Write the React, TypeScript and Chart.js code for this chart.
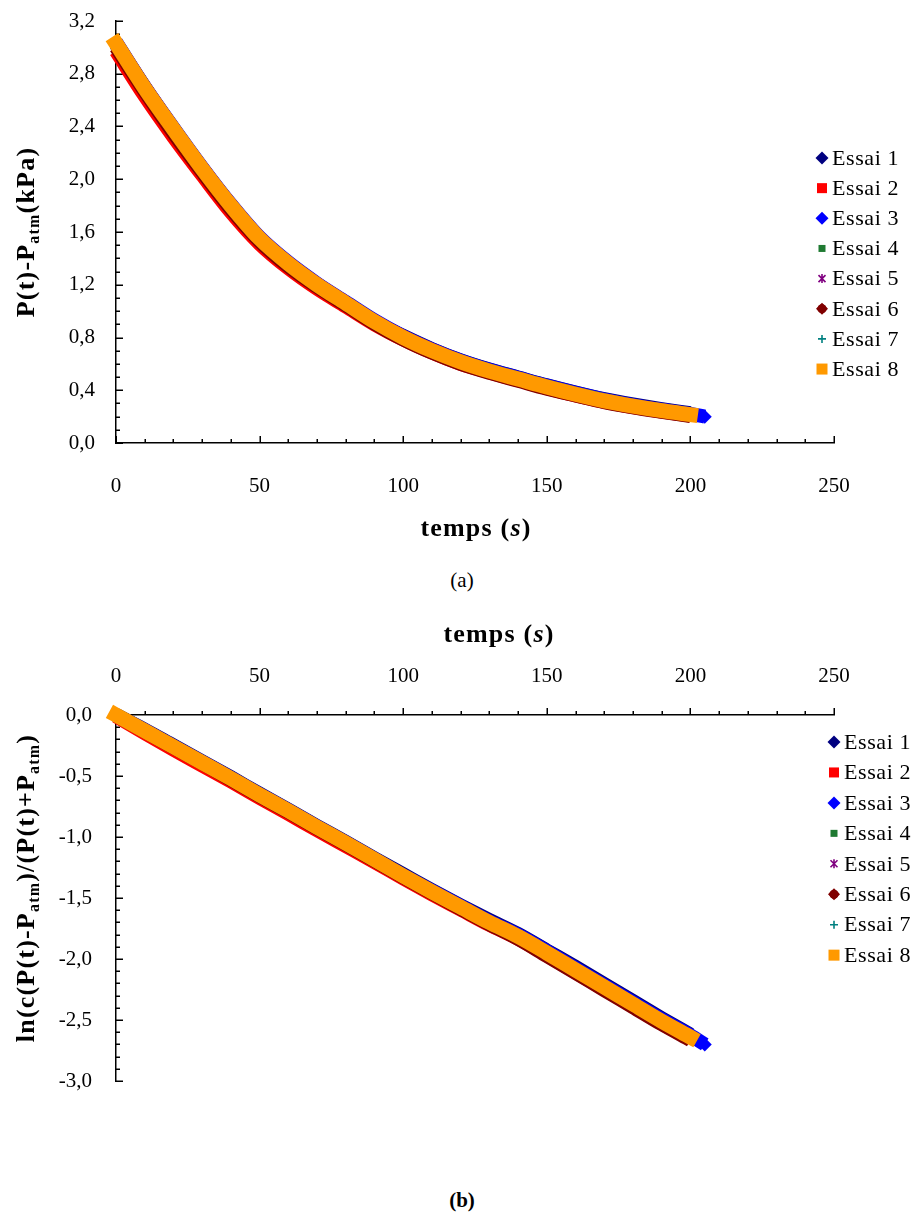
import React, { useEffect, useRef } from 'react';
import { Chart, registerables } from 'chart.js';

Chart.register(...registerables);

// ---------- DATA ----------
const temps = [0, 10, 20, 30, 40, 50, 60, 70, 80, 90, 100, 110, 120, 130, 140, 150, 160, 170, 180, 190, 200, 205];
const essaiNames = ['Essai 1', 'Essai 2', 'Essai 3', 'Essai 4', 'Essai 5', 'Essai 6', 'Essai 7', 'Essai 8'];

// (a) P(t) - Patm (kPa)
const pEssai1 = [3.02, 2.685, 2.37, 2.07, 1.79, 1.54, 1.35, 1.19, 1.055, 0.92, 0.812, 0.712, 0.627, 0.557, 0.497, 0.437, 0.382, 0.332, 0.292, 0.257, 0.226, null];
const pEssai2 = [2.97, 2.63, 2.32, 2.03, 1.75, 1.51, 1.325, 1.17, 1.035, 0.9, 0.785, 0.685, 0.6, 0.535, 0.475, 0.415, 0.36, 0.312, 0.272, 0.238, 0.208, null];
const pEssai3 = [3.04, 2.7, 2.39, 2.09, 1.81, 1.56, 1.37, 1.21, 1.07, 0.93, 0.81, 0.71, 0.625, 0.555, 0.495, 0.435, 0.38, 0.33, 0.288, 0.252, 0.22, 0.2];
const pEssai4 = [3.03, 2.695, 2.38, 2.08, 1.8, 1.55, 1.36, 1.2, 1.06, 0.92, 0.8, 0.7, 0.615, 0.545, 0.485, 0.425, 0.37, 0.32, 0.28, 0.245, 0.213, null];
const pEssai5 = [3.035, 2.7, 2.385, 2.085, 1.805, 1.555, 1.365, 1.205, 1.065, 0.925, 0.805, 0.705, 0.62, 0.55, 0.49, 0.43, 0.375, 0.325, 0.283, 0.248, 0.217, null];
const pEssai6 = [3.0, 2.665, 2.35, 2.055, 1.775, 1.53, 1.34, 1.185, 1.045, 0.905, 0.785, 0.685, 0.6, 0.532, 0.472, 0.412, 0.36, 0.31, 0.27, 0.236, 0.204, null];
const pEssai7 = [3.03, 2.695, 2.38, 2.08, 1.8, 1.55, 1.36, 1.2, 1.06, 0.92, 0.8, 0.7, 0.617, 0.548, 0.488, 0.428, 0.373, 0.323, 0.282, 0.247, 0.216, null];
const pEssai8 = [3.03, 2.69, 2.38, 2.08, 1.8, 1.55, 1.36, 1.2, 1.06, 0.92, 0.8, 0.7, 0.615, 0.545, 0.485, 0.425, 0.37, 0.32, 0.28, 0.245, 0.215, null];

// (b) ln(c(P(t)-Patm)/(P(t)+Patm))
const lnEssai1 = [0, -0.12, -0.25, -0.38, -0.51, -0.645, -0.775, -0.91, -1.04, -1.175, -1.305, -1.435, -1.56, -1.68, -1.795, -1.93, -2.065, -2.205, -2.345, -2.485, -2.62, null];
const lnEssai2 = [-0.01, -0.15, -0.285, -0.415, -0.545, -0.68, -0.81, -0.945, -1.075, -1.205, -1.34, -1.47, -1.595, -1.72, -1.835, -1.97, -2.11, -2.25, -2.39, -2.53, -2.655, null];
const lnEssai3 = [0, -0.125, -0.255, -0.385, -0.515, -0.65, -0.78, -0.915, -1.045, -1.18, -1.315, -1.44, -1.565, -1.69, -1.8, -1.935, -2.075, -2.215, -2.355, -2.495, -2.625, -2.7];
const lnEssai4 = [0, -0.13, -0.26, -0.39, -0.52, -0.655, -0.785, -0.92, -1.05, -1.185, -1.32, -1.45, -1.575, -1.7, -1.815, -1.95, -2.09, -2.23, -2.37, -2.51, -2.64, null];
const lnEssai5 = [0, -0.128, -0.258, -0.388, -0.518, -0.652, -0.783, -0.918, -1.048, -1.183, -1.318, -1.448, -1.573, -1.698, -1.813, -1.948, -2.088, -2.228, -2.368, -2.508, -2.638, null];
const lnEssai6 = [0, -0.135, -0.265, -0.395, -0.53, -0.665, -0.795, -0.93, -1.06, -1.195, -1.33, -1.46, -1.59, -1.715, -1.835, -1.975, -2.115, -2.255, -2.395, -2.535, -2.665, null];
const lnEssai7 = [0, -0.13, -0.26, -0.39, -0.52, -0.655, -0.785, -0.92, -1.05, -1.185, -1.32, -1.45, -1.575, -1.7, -1.815, -1.95, -2.09, -2.23, -2.37, -2.51, -2.64, null];
const lnEssai8 = [0, -0.13, -0.26, -0.39, -0.52, -0.655, -0.785, -0.92, -1.05, -1.185, -1.32, -1.45, -1.575, -1.7, -1.815, -1.95, -2.09, -2.23, -2.37, -2.51, -2.64, null];

const seriesA = [pEssai1, pEssai2, pEssai3, pEssai4, pEssai5, pEssai6, pEssai7, pEssai8];
const seriesB = [lnEssai1, lnEssai2, lnEssai3, lnEssai4, lnEssai5, lnEssai6, lnEssai7, lnEssai8];

// ---------- STYLE ----------
const FONT = "'Liberation Serif', 'Times New Roman', serif";
const essaiColors = ['#000080', '#FF0000', '#0000FF', '#1F7A32', '#800080', '#800000', '#008080', '#FF9900'];
const essaiMarkers = ['diamond', 'square', 'diamond', 'smallSquare', 'star', 'roundDiamond', 'plus', 'bigSquare'];

type Seg = { t: string; sub?: boolean; italic?: boolean };

function drawSegs(ctx: CanvasRenderingContext2D, segs: Seg[], cx: number, cy: number, size: number, rotate: boolean, spacing: number) {
  ctx.save();
  ctx.translate(cx, cy);
  if (rotate) ctx.rotate(-Math.PI / 2);
  ctx.fillStyle = '#000';
  ctx.textBaseline = 'alphabetic';
  ctx.textAlign = 'left';
  (ctx as any).letterSpacing = spacing + 'px';
  const fontFor = (s: Seg) => `${s.italic ? 'italic ' : ''}bold ${s.sub ? Math.round(size * 0.62) : size}px ${FONT}`;
  let total = 0;
  const widths = segs.map((s) => {
    ctx.font = fontFor(s);
    const w = ctx.measureText(s.t).width;
    total += w;
    return w;
  });
  let x = -total / 2;
  const base = size * 0.33;
  segs.forEach((s, i) => {
    ctx.font = fontFor(s);
    ctx.fillText(s.t, x, base + (s.sub ? size * 0.2 : 0));
    x += widths[i];
  });
  ctx.restore();
}

function drawMarker(ctx: CanvasRenderingContext2D, kind: string, color: string, x: number, y: number) {
  ctx.save();
  ctx.fillStyle = color;
  ctx.strokeStyle = color;
  ctx.lineWidth = 1.6;
  ctx.lineJoin = 'round';
  const sq = (s: number) => ctx.fillRect(x - s / 2, y - s / 2, s, s);
  const dia = (r: number) => {
    ctx.beginPath();
    ctx.moveTo(x, y - r);
    ctx.lineTo(x + r, y);
    ctx.lineTo(x, y + r);
    ctx.lineTo(x - r, y);
    ctx.closePath();
    ctx.fill();
  };
  switch (kind) {
    case 'diamond':
      dia(6.5);
      break;
    case 'roundDiamond':
      dia(6);
      ctx.beginPath();
      ctx.arc(x, y, 4.6, 0, Math.PI * 2);
      ctx.fill();
      break;
    case 'square':
      sq(10);
      break;
    case 'smallSquare':
      sq(7);
      break;
    case 'bigSquare':
      sq(11);
      break;
    case 'star':
      ctx.beginPath();
      ctx.moveTo(x - 3.5, y - 3.5); ctx.lineTo(x + 3.5, y + 3.5);
      ctx.moveTo(x + 3.5, y - 3.5); ctx.lineTo(x - 3.5, y + 3.5);
      ctx.moveTo(x, y - 4.5); ctx.lineTo(x, y + 4.5);
      ctx.stroke();
      break;
    case 'plus':
      ctx.beginPath();
      ctx.moveTo(x - 4, y); ctx.lineTo(x + 4, y);
      ctx.moveTo(x, y - 4); ctx.lineTo(x, y + 4);
      ctx.stroke();
      break;
  }
  ctx.restore();
}

interface Cfg {
  xMinor: number; xMajor: number; yMinor: number; yMajor: number; xTop: boolean;
  xTitle: { x: number; y: number }; yTitle: { x: number; y: number; segs: Seg[] };
  legend: { x: number; y: number; dy: number };
}

function makePlugin(cfg: Cfg) {
  return {
    id: 'excelDeco',
    beforeDatasetsDraw(chart: any) {
      const { ctx, chartArea, scales } = chart;
      const x = scales.x, y = scales.y;
      ctx.save();
      ctx.strokeStyle = '#000';
      ctx.lineWidth = 1.5;
      const axisY = cfg.xTop ? chartArea.top : chartArea.bottom;
      const nx = Math.round((x.max - x.min) / cfg.xMinor);
      for (let k = 0; k <= nx; k++) {
        const v = x.min + k * cfg.xMinor;
        const px = Math.round(x.getPixelForValue(v)) + 0.25;
        const r = v / cfg.xMajor;
        const major = Math.abs(r - Math.round(r)) < 1e-6;
        const len = major ? 7 : 4;
        ctx.beginPath();
        ctx.moveTo(px, axisY);
        ctx.lineTo(px, axisY - len);
        ctx.stroke();
      }
      const axisX = chartArea.left;
      const ny = Math.round((y.max - y.min) / cfg.yMinor);
      for (let k = 0; k <= ny; k++) {
        const v = y.min + k * cfg.yMinor;
        const py = Math.round(y.getPixelForValue(v)) + 0.25;
        const r = v / cfg.yMajor;
        const major = Math.abs(r - Math.round(r)) < 1e-6;
        const len = major ? 7 : 4;
        ctx.beginPath();
        ctx.moveTo(axisX, py);
        ctx.lineTo(axisX + len, py);
        ctx.stroke();
      }
      ctx.restore();
    },
    afterDraw(chart: any) {
      const { ctx } = chart;
      drawSegs(ctx, [{ t: 'temps (' }, { t: 's', italic: true }, { t: ')' }], cfg.xTitle.x, cfg.xTitle.y, 26, false, 1.2);
      drawSegs(ctx, cfg.yTitle.segs, cfg.yTitle.x, cfg.yTitle.y, 26, true, 1.2);
      ctx.save();
      ctx.font = `22px ${FONT}`;
      (ctx as any).letterSpacing = '0.6px';
      ctx.textBaseline = 'middle';
      ctx.textAlign = 'left';
      essaiNames.forEach((name, i) => {
        const yy = cfg.legend.y + i * cfg.legend.dy;
        drawMarker(ctx, essaiMarkers[i], essaiColors[i], cfg.legend.x, yy);
        ctx.fillStyle = '#000';
        ctx.fillText(name, cfg.legend.x + 10, yy + 1);
      });
      ctx.restore();
    },
  };
}

function buildDatasets(series: (number | null)[][]) {
  return series.map((vals, i) => {
    const data = temps
      .map((t, j) => (vals[j] == null ? null : { x: t, y: vals[j] as number }))
      .filter((p) => p !== null) as { x: number; y: number }[];
    const last = data.length - 1;
    const isTop = i === 7;
    return {
      label: essaiNames[i],
      data,
      borderColor: essaiColors[i],
      backgroundColor: essaiColors[i],
      pointBackgroundColor: essaiColors[i],
      borderWidth: isTop ? 15 : 14,
      pointStyle: 'rectRot',
      pointBorderWidth: 0,
      pointRadius: (c: any) => (i === 2 && c.dataIndex === last ? 7 : 0),
      showLine: true,
      fill: false,
      cubicInterpolationMode: 'monotone',
      borderCapStyle: isTop ? 'square' : 'butt',
      borderJoinStyle: 'round',
      clip: false,
      order: 8 - i,
    };
  });
}

const tickFont = { family: FONT, size: 21 };
const fmt = (v: any) => Number(v).toFixed(1).replace('.', ',');

function ChartA() {
  const ref = useRef<HTMLCanvasElement>(null);
  useEffect(() => {
    const chart = new Chart(ref.current as HTMLCanvasElement, {
      type: 'line',
      data: { datasets: buildDatasets(seriesA) as any },
      options: {
        animation: false,
        responsive: false,
        events: [],
        layout: { padding: { left: 0, right: 90, top: 21, bottom: 0 } },
        plugins: { legend: { display: false }, tooltip: { enabled: false } },
        scales: {
          x: {
            type: 'linear', position: 'bottom', min: 0, max: 250,
            grid: { display: true, drawOnChartArea: false, drawTicks: false },
            border: { display: true, color: '#000', width: 1.5 },
            ticks: { stepSize: 50, font: tickFont, color: '#000', padding: 31, maxRotation: 0, autoSkip: false },
            afterFit: (s: any) => { s.height = 102; },
          },
          y: {
            type: 'linear', min: 0, max: 3.2,
            grid: { display: true, drawOnChartArea: false, drawTicks: true, tickLength: 21, tickColor: 'rgba(0,0,0,0)' },
            border: { display: true, color: '#000', width: 1.5 },
            ticks: { stepSize: 0.4, font: tickFont, color: '#000', padding: 0, autoSkip: false, callback: fmt },
            afterFit: (s: any) => { s.width = 116; },
          },
        },
      } as any,
      plugins: [makePlugin({
        xMinor: 10, xMajor: 50, yMinor: 0.1, yMajor: 0.4, xTop: false,
        xTitle: { x: 476, y: 527 },
        yTitle: { x: 25, y: 232, segs: [{ t: 'P(t)-P' }, { t: 'atm', sub: true }, { t: '(kPa)' }] },
        legend: { x: 822, y: 158, dy: 30.15 },
      }) as any],
    });
    return () => chart.destroy();
  }, []);
  return <canvas ref={ref} width={924} height={545} style={{ position: 'absolute', left: 0, top: 0, display: 'block' }} />;
}

function ChartB() {
  const ref = useRef<HTMLCanvasElement>(null);
  useEffect(() => {
    const chart = new Chart(ref.current as HTMLCanvasElement, {
      type: 'line',
      data: { datasets: buildDatasets(seriesB) as any },
      options: {
        animation: false,
        responsive: false,
        events: [],
        layout: { padding: { left: 0, right: 90, top: 0, bottom: 24 } },
        plugins: { legend: { display: false }, tooltip: { enabled: false } },
        scales: {
          x: {
            type: 'linear', position: 'top', min: 0, max: 250,
            grid: { display: true, drawOnChartArea: false, drawTicks: false },
            border: { display: true, color: '#000', width: 1.5 },
            ticks: { stepSize: 50, font: tickFont, color: '#000', padding: 26, maxRotation: 0, autoSkip: false },
            afterFit: (s: any) => { s.height = 120; },
          },
          y: {
            type: 'linear', min: -3, max: 0,
            grid: { display: true, drawOnChartArea: false, drawTicks: true, tickLength: 24, tickColor: 'rgba(0,0,0,0)' },
            border: { display: true, color: '#000', width: 1.5 },
            ticks: { stepSize: 0.5, font: tickFont, color: '#000', padding: 0, autoSkip: false, callback: fmt },
            afterFit: (s: any) => { s.width = 116; },
          },
        },
      } as any,
      plugins: [makePlugin({
        xMinor: 10, xMajor: 50, yMinor: 0.1, yMajor: 0.5, xTop: true,
        xTitle: { x: 499, y: 38 },
        yTitle: {
          x: 25, y: 293,
          segs: [{ t: 'ln(c(P(t)-P' }, { t: 'atm', sub: true }, { t: ')/(P(t)+P' }, { t: 'atm', sub: true }, { t: ')' }],
        },
        legend: { x: 834, y: 147, dy: 30.45 },
      }) as any],
    });
    return () => chart.destroy();
  }, []);
  return <canvas ref={ref} width={924} height={510} style={{ position: 'absolute', left: 0, top: 595, display: 'block' }} />;
}

export default function App() {
  return (
    <div style={{ position: 'absolute', left: 0, top: 0, width: 924, height: 1224, background: '#fff', overflow: 'hidden' }}>
      <ChartA />
      <div style={{ position: 'absolute', left: 0, width: 924, top: 567, textAlign: 'center', fontFamily: FONT, fontSize: 21, lineHeight: '26px', color: '#000' }}>(a)</div>
      <ChartB />
      <div style={{ position: 'absolute', left: 0, width: 924, top: 1187, textAlign: 'center', fontFamily: FONT, fontSize: 21, fontWeight: 'bold', lineHeight: '26px', color: '#000' }}>(b)</div>
    </div>
  );
}
